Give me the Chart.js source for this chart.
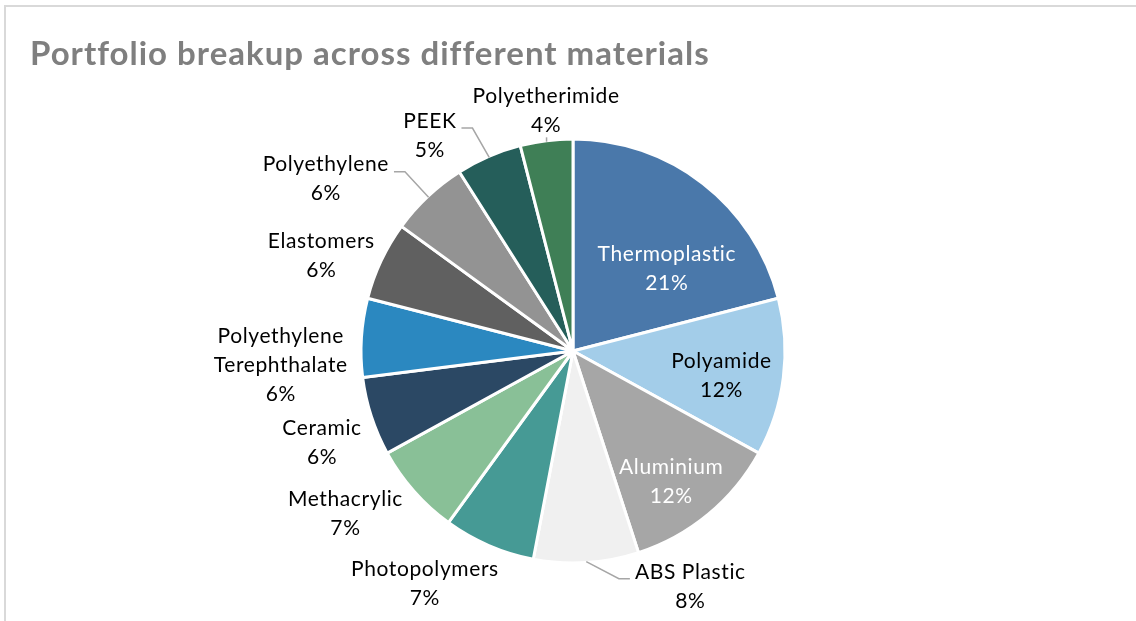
<!DOCTYPE html>
<html>
<head>
<meta charset="utf-8">
<script src="https://cdn.jsdelivr.net/npm/chart.js@4.4.1/dist/chart.umd.min.js"></script>
<style>
  html, body { margin: 0; padding: 0; background: #fff; }
  #wrap { position: relative; width: 1136px; height: 621px; }
</style>
</head>
<body>
<div id="wrap"><canvas id="portfolio-chart" width="1136" height="621"></canvas></div>
<script>
// portfolio data
const materials = ['Thermoplastic', 'Polyamide', 'Aluminium', 'ABS Plastic', 'Photopolymers', 'Methacrylic',
  'Ceramic', 'Polyethylene Terephthalate', 'Elastomers', 'Polyethylene', 'PEEK', 'Polyetherimide'];
const shares = [21, 12, 12, 8, 7, 7, 6, 6, 6, 6, 5, 4];
const sliceColors = ['#4a78aa', '#a3cde9', '#a6a6a6', '#f0f0f0', '#469a95', '#89c097',
  '#2b4864', '#2b88c0', '#606060', '#939393', '#255e5a', '#3f7f56'];

// label spots: degrees clockwise from 12 o'clock, distance in pie radii
const labelSpots = [[48.6, 0.59], [99.6, 0.71], [143, 0.77], [153.5, 1.24], [212.5, 1.30], [234.4, 1.32],
  [250, 1.26], [267.3, 1.38], [290.8, 1.27], [304.8, 1.42], [326.4, 1.22], [353.6, 1.14]];
const labelInk = ['#ffffff', '#000000', '#ffffff', '#000000', '#000000', '#000000',
  '#000000', '#000000', '#000000', '#000000', '#000000', '#000000'];
// leader lines: which side of the label they leave from
const leaders = [null, null, null, 'left', null, null, null, null, null, 'right', 'right', 'down'];

const FONT = 'Lato, "Open Sans", sans-serif';
const LINE_H = 29;

const labelPlugin = {
  id: 'sliceLabels',
  beforeDraw(chart) {
    const ctx = chart.ctx;
    ctx.save();
    // frame lines
    ctx.strokeStyle = '#d9d9d9';
    ctx.lineWidth = 2;
    ctx.beginPath();
    ctx.moveTo(5, 621);
    ctx.lineTo(5, 6);
    ctx.lineTo(1136, 6);
    ctx.stroke();
    // title
    ctx.fillStyle = '#7f7f7f';
    ctx.font = 'bold 33px ' + FONT;
    ctx.letterSpacing = '1px';
    ctx.textBaseline = 'alphabetic';
    ctx.textAlign = 'left';
    ctx.fillText('Portfolio breakup across different materials', 30, 65);
    ctx.restore();
  },
  afterDatasetsDraw(chart) {
    const ctx = chart.ctx;
    const meta = chart.getDatasetMeta(0);
    const total = shares.reduce((a, b) => a + b, 0);
    ctx.save();
    ctx.font = '21px ' + FONT;
    ctx.letterSpacing = '0.6px';
    ctx.textAlign = 'center';
    ctx.textBaseline = 'middle';
    meta.data.forEach(function (arc, i) {
      const p = arc.getProps(['x', 'y', 'startAngle', 'endAngle', 'outerRadius'], true);
      const R = p.outerRadius;
      const ang = (labelSpots[i][0] - 90) * Math.PI / 180;
      const lx = p.x + Math.cos(ang) * R * labelSpots[i][1];
      const ly = p.y + Math.sin(ang) * R * labelSpots[i][1];

      let lines = [materials[i]];
      if (ctx.measureText(materials[i]).width > 180) lines = materials[i].split(' ');
      lines.push(Math.round(shares[i] / total * 100) + '%');
      const top = ly - (lines.length - 1) * LINE_H / 2;

      ctx.fillStyle = labelInk[i];
      lines.forEach(function (t, k) { ctx.fillText(t, lx, top + k * LINE_H); });

      if (leaders[i]) {
        const mid = (p.startAngle + p.endAngle) / 2;
        const ex = p.x + Math.cos(mid) * (R - 1);
        const ey = p.y + Math.sin(mid) * (R - 1);
        const w = ctx.measureText(lines[0]).width;
        ctx.strokeStyle = '#a6a6a6';
        ctx.lineWidth = 1.5;
        ctx.beginPath();
        if (leaders[i] === 'down') {
          ctx.moveTo(ex, top + LINE_H + 12);
          ctx.lineTo(ex, ey);
        } else {
          const dir = leaders[i] === 'right' ? 1 : -1;
          const sx = lx + dir * (w / 2 + 5);
          const sy = top + 7;
          ctx.moveTo(sx, sy);
          ctx.lineTo(sx + dir * 11, sy);
          ctx.lineTo(ex, ey);
        }
        ctx.stroke();
      }
    });
    ctx.restore();
  }
};

const portfolioChart = new Chart(document.getElementById('portfolio-chart'), {
  type: 'pie',
  data: {
    labels: materials,
    datasets: [{
      data: shares,
      backgroundColor: sliceColors,
      borderColor: '#ffffff',
      borderWidth: 3
    }]
  },
  options: {
    responsive: false,
    animation: false,
    radius: 212,
    layout: { padding: { left: 10, top: 100, bottom: 19 } },
    plugins: {
      legend: { display: false },
      tooltip: { enabled: false }
    }
  },
  plugins: [labelPlugin]
});
</script>
</body>
</html>
